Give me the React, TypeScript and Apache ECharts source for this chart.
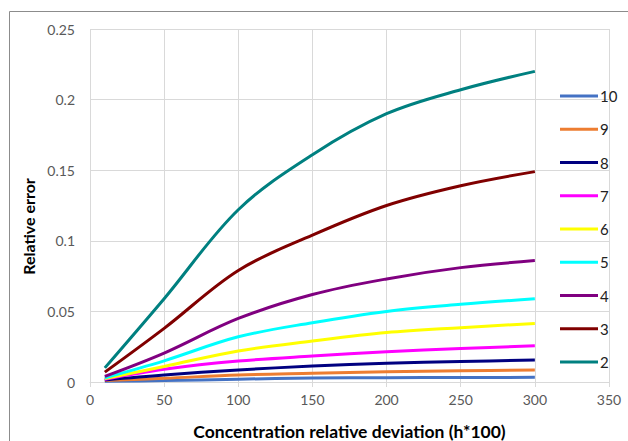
import React, { useEffect, useRef } from "react";
import * as echarts from "echarts";

const xValues = [10, 50, 100, 150, 200, 250, 300];
const seriesNames = ["10", "9", "8", "7", "6", "5", "4", "3", "2"];
const seriesColors = ["#4472C4", "#ED7D31", "#000080", "#FF00FF", "#FFFF00", "#00FFFF", "#800080", "#800000", "#008080"];
const s10 = [0.0005, 0.001, 0.002, 0.0028, 0.003, 0.0032, 0.0033];
const s9 = [0.001, 0.0026, 0.005, 0.0062, 0.0073, 0.008, 0.0085];
const s8 = [0.0015, 0.005, 0.0085, 0.0113, 0.0132, 0.0145, 0.0156];
const s7 = [0.002, 0.009, 0.0148, 0.0184, 0.0215, 0.0237, 0.0257];
const s6 = [0.0025, 0.011, 0.022, 0.029, 0.035, 0.0385, 0.0415];
const s5 = [0.003, 0.015, 0.032, 0.042, 0.05, 0.055, 0.059];
const s4 = [0.004, 0.0205, 0.045, 0.062, 0.073, 0.081, 0.086];
const s3 = [0.007, 0.038, 0.079, 0.104, 0.125, 0.139, 0.149];
const s2 = [0.01, 0.059, 0.122, 0.161, 0.19, 0.207, 0.22];
const seriesValues = [s10, s9, s8, s7, s6, s5, s4, s3, s2];

const FONT = "Lato";

export default function App() {
  const ref = useRef<HTMLDivElement>(null);
  useEffect(() => {
    document.body.style.margin = "0";
    const chart = echarts.init(ref.current!, undefined, { renderer: "svg" });
    chart.setOption({
      animation: false,
      backgroundColor: "#fff",
      textStyle: { fontFamily: FONT },
      graphic: [
        {
          type: "rect",
          shape: { x: 9.5, y: 11.5, width: 700, height: 500 },
          style: { fill: "none", stroke: "#8c8c8c", lineWidth: 1 },
          silent: true,
        },
      ],
      grid: { left: 90, top: 29, right: 19, bottom: 59, containLabel: false, outerBoundsMode: "none" },
      legend: {
        orient: "vertical",
        left: 555,
        top: 83,
        itemWidth: 38,
        itemHeight: 3,
        itemGap: 17.25,
        icon: "rect",
        textStyle: { fontFamily: FONT, fontSize: 15, color: "#222", lineHeight: 16, padding: [0, 0, 0, -3] },
        data: seriesNames,
      },
      xAxis: {
        type: "value",
        min: 0,
        max: 350,
        interval: 50,
        name: "Concentration relative deviation (h*100)",
        nameLocation: "middle",
        nameGap: 40,
        nameTextStyle: { fontFamily: FONT, fontSize: 17.5, fontWeight: "bold", color: "#000" },
        axisLine: { lineStyle: { color: "#d9d9d9", width: 1 } },
        axisTick: { show: true, length: 5, lineStyle: { color: "#d9d9d9" } },
        axisLabel: { color: "#595959", fontSize: 14, fontFamily: FONT, margin: 10 },
        splitLine: { show: true, lineStyle: { color: "#d9d9d9", width: 1 } },
      },
      yAxis: {
        type: "value",
        min: 0,
        max: 0.25,
        interval: 0.05,
        name: "Relative error",
        nameLocation: "middle",
        nameGap: 47,
        nameTextStyle: { fontFamily: FONT, fontSize: 16, fontWeight: "bold", color: "#000", padding: [0, 42, 0, 0] },
        axisLine: { show: false },
        axisTick: { show: false },
        axisLabel: { color: "#595959", fontSize: 14, fontFamily: FONT, margin: 15 },
        splitLine: { show: true, lineStyle: { color: "#d9d9d9", width: 1 } },
      },
      series: seriesNames.map((name, i) => ({
        name,
        type: "line",
        smooth: 0.35,
        showSymbol: false,
        symbol: "none",
        color: seriesColors[i],
        lineStyle: { width: 3, color: seriesColors[i] },
        data: xValues.map((x, j) => [x, seriesValues[i][j]]),
      })),
    });
    return () => chart.dispose();
  }, []);
  return <div ref={ref} style={{ width: 628, height: 441 }} />;
}
